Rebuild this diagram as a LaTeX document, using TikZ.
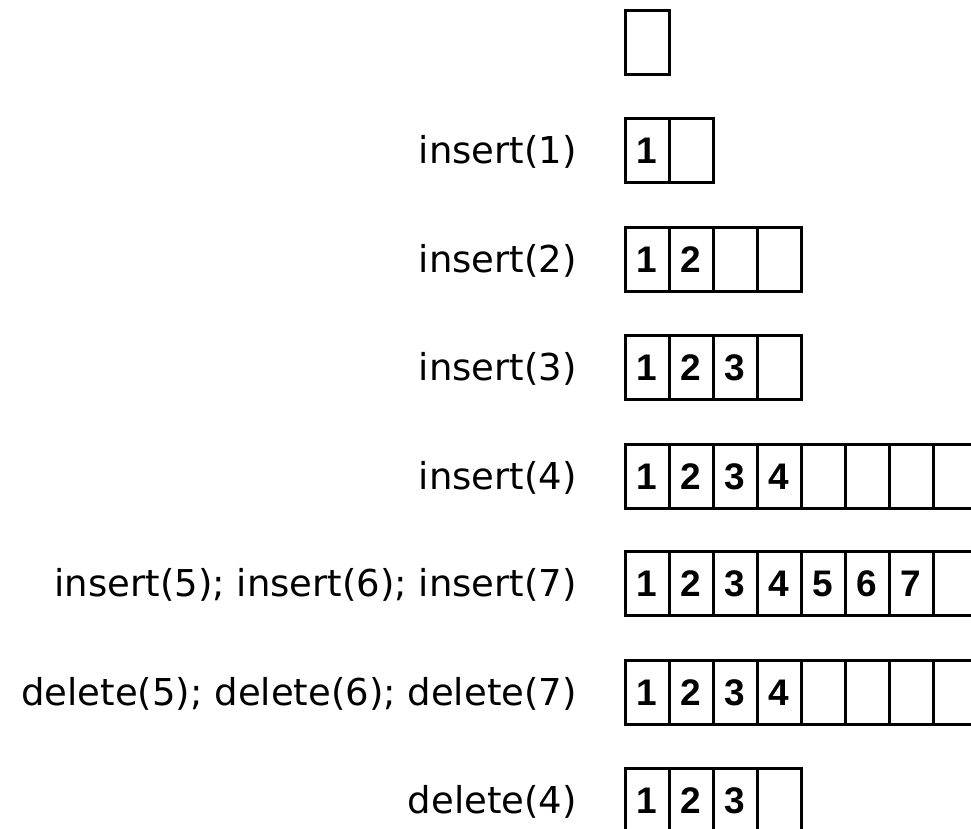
\documentclass[tikz,border=0pt]{standalone}
\usepackage{fontspec}
\setmainfont{DejaVu Sans}
\newfontfamily\cellfont{Liberation Sans}
\tikzset{
  cell/.style={draw, line width=2.5pt, minimum width=44pt, minimum height=64pt,
    inner sep=0pt, anchor=north west, text height=26pt, text depth=0pt,
    font=\cellfont\bfseries\fontsize{37}{37}\selectfont},
  oplabel/.style={anchor=base east, inner sep=0pt,
    font=\fontsize{37}{37}\selectfont}
}
\newcommand\arrrow[3]{%
  \foreach \v [count=\i] in {#3} {\node[cell] (#1c\i) at ({624+44*(\i-1)},#2) {\v};}}
\begin{document}
\begin{tikzpicture}[x=1pt,y=-1pt]
\useasboundingbox (0,0) rectangle (971,828);
\clip (0,0) rectangle (971,828);
\arrrow{r0}{9}{\relax}
\arrrow{r1}{117}{1,\relax}
\arrrow{r2}{226}{1,2,\relax,\relax}
\arrrow{r3}{334}{1,2,3,\relax}
\arrrow{r4}{443}{1,2,3,4,\relax,\relax,\relax,\relax}
\arrrow{r5}{550}{1,2,3,4,5,6,7,\relax}
\arrrow{r6}{659}{1,2,3,4,\relax,\relax,\relax,\relax}
\arrrow{r7}{767}{1,2,3,\relax}
\node[oplabel] (l1) at (577,163) {insert(1)};
\node[oplabel] (l2) at (577,272) {insert(2)};
\node[oplabel] (l3) at (577,380) {insert(3)};
\node[oplabel] (l4) at (577,489) {insert(4)};
\node[oplabel] (l5) at (577,596) {insert(5); insert(6); insert(7)};
\node[oplabel] (l6) at (577,705) {delete(5); delete(6); delete(7)};
\node[oplabel] (l7) at (577,813) {delete(4)};
\end{tikzpicture}
\end{document}
